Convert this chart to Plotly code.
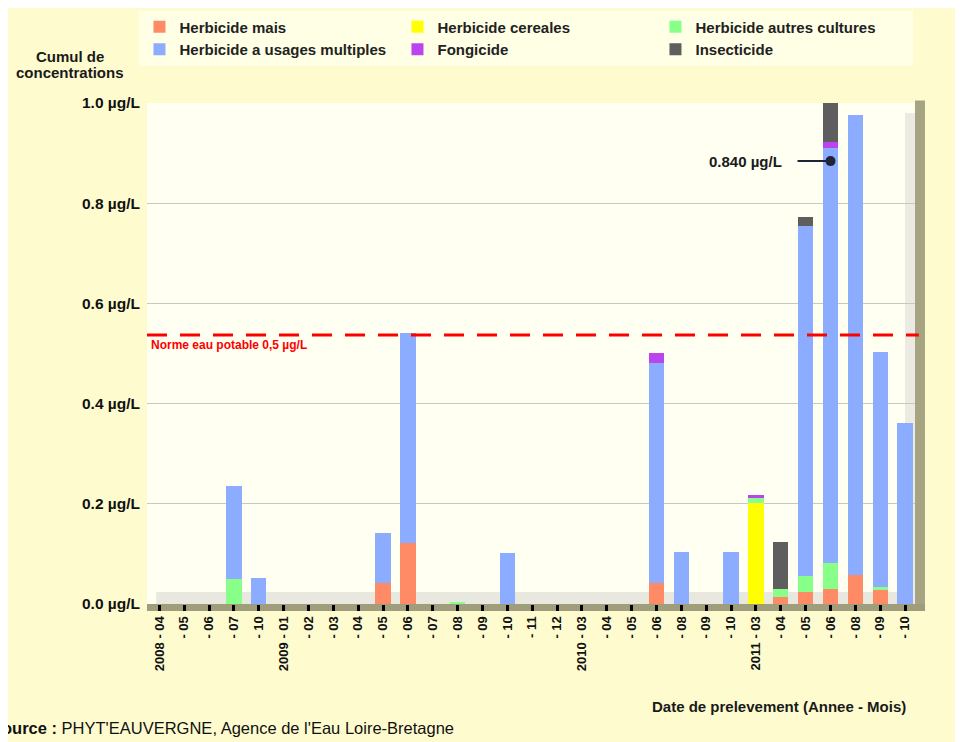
import plotly.graph_objects as go

# ---------------- data ----------------
dates = ["2008-04", "2008-05", "2008-06", "2008-07", "2008-10",
         "2009-01", "2009-02", "2009-03", "2009-04", "2009-05", "2009-06",
         "2009-07", "2009-08", "2009-09", "2009-10", "2009-11", "2009-12",
         "2010-03", "2010-04", "2010-05", "2010-06", "2010-08", "2010-09", "2010-10",
         "2011-03", "2011-04", "2011-05", "2011-06", "2011-08", "2011-09", "2011-10"]
tick_labels = ["2008 - 04", "- 05", "- 06", "- 07", "- 10",
               "2009 - 01", "- 02", "- 03", "- 04", "- 05", "- 06",
               "- 07", "- 08", "- 09", "- 10", "- 11", "- 12",
               "2010 - 03", "- 04", "- 05", "- 06", "- 08", "- 09", "- 10",
               "2011 - 03", "- 04", "- 05", "- 06", "- 08", "- 09", "- 10"]

herbicide_mais = [None, None, None, None, None,
                  None, None, None, None, 0.042, 0.122,
                  None, None, None, None, None, None,
                  None, None, None, 0.042, None, None, None,
                  None, 0.013, 0.023, 0.029, 0.057, 0.028, None]
herbicide_cereales = [None, None, None, None, None,
                      None, None, None, None, None, None,
                      None, None, None, None, None, None,
                      None, None, None, None, None, None, None,
                      0.201, None, None, None, None, None, None]
herbicide_autres = [None, None, None, 0.050, None,
                    None, None, None, None, None, None,
                    None, 0.004, None, None, None, None,
                    None, None, None, None, None, None, None,
                    0.010, 0.016, 0.033, 0.052, None, 0.005, None]
herbicide_multiples = [None, None, None, 0.185, 0.052,
                       None, None, None, None, 0.100, 0.419,
                       None, None, None, 0.102, None, None,
                       None, None, None, 0.439, 0.104, None, 0.104,
                       None, None, 0.699, 0.829, 0.919, 0.470, 0.361]
fongicide = [None, None, None, None, None,
             None, None, None, None, None, None,
             None, None, None, None, None, None,
             None, None, None, 0.020, None, None, None,
             0.007, None, None, 0.013, None, None, None]
insecticide = [None, None, None, None, None,
               None, None, None, None, None, None,
               None, None, None, None, None, None,
               None, None, None, None, None, None, None,
               None, 0.094, 0.018, 0.077, None, None, None]

series_names = ["Herbicide mais", "Herbicide cereales", "Herbicide autres cultures",
                "Herbicide a usages multiples", "Fongicide", "Insecticide"]
series_values = [herbicide_mais, herbicide_cereales, herbicide_autres,
                 herbicide_multiples, fongicide, insecticide]
series_colors = ["#FF8B66", "#FFFF00", "#88FF88", "#8CACFF", "#BB44EE", "#5E5E5E"]

y_tickvals = [0.0, 0.2, 0.4, 0.6, 0.8, 1.0]
y_ticktext = ["0.0 µg/L", "0.2 µg/L", "0.4 µg/L", "0.6 µg/L", "0.8 µg/L", "1.0 µg/L"]

norme_value = 0.537
norme_label = "Norme eau potable 0,5 µg/L"
marker_date = "2011-06"
marker_value = 0.884
marker_label = "0.840 µg/L"

# ---------------- figure ----------------
FONT = "Liberation Sans, Arial, sans-serif"
BG = "#FEFCCF"

fig = go.Figure()
for name, vals, col in zip(series_names, series_values, series_colors):
    fig.add_trace(go.Bar(x=dates, y=vals, name=name,
                         marker=dict(color=col, line=dict(width=0))))

fig.add_trace(go.Scatter(x=[marker_date], y=[marker_value], mode="markers",
                         marker=dict(color="#1F2438", size=10),
                         showlegend=False, hoverinfo="skip"))

shapes = [
    # floor band
    dict(type="rect", xref="paper", yref="y", x0=0.012, x1=0.987,
         y0=0, y1=0.024, fillcolor="#E9E8DF", line_width=0, layer="below"),
    # inner right wall
    dict(type="rect", xref="paper", yref="paper", x0=0.987, x1=1.0,
         y0=0, y1=0.98, fillcolor="#ECEBE3", line_width=0, layer="below"),
    # right shadow
    dict(type="rect", xref="paper", yref="paper", x0=1.0, x1=1.013,
         y0=-0.014, y1=1.005, fillcolor="#A7A482", line_width=0, layer="below"),
    # bottom shadow
    dict(type="rect", xref="paper", yref="paper", x0=0.0, x1=1.013,
         y0=-0.014, y1=0.0, fillcolor="#A09D7C", line_width=0, layer="below"),
    # norm line
    dict(type="line", xref="paper", yref="y", x0=0, x1=1.005,
         y0=norme_value, y1=norme_value,
         line=dict(color="#FF0000", width=3, dash="20px,13px")),
]

annotations = [
    dict(xref="paper", yref="paper", x=-0.1003, y=1.0938, xanchor="center", yanchor="middle",
         text="<b>Cumul de</b>", showarrow=False,
         font=dict(family=FONT, size=15, color="#1a1a1a")),
    dict(xref="paper", yref="paper", x=-0.1003, y=1.0599, xanchor="center", yanchor="middle",
         text="<b>concentrations</b>", showarrow=False,
         font=dict(family=FONT, size=15, color="#1a1a1a")),
    dict(xref="paper", yref="paper", x=0.991, y=-0.2036, xanchor="right", yanchor="middle",
         text="<b>Date de prelevement (Annee - Mois)</b>", showarrow=False,
         font=dict(family=FONT, size=15, color="#1a1a1a")),
    dict(xref="paper", yref="paper", x=-0.2057, y=-0.2475, xanchor="left", yanchor="middle",
         text="<b>Source :</b> PHYT'EAUVERGNE, Agence de l'Eau Loire-Bretagne", showarrow=False,
         font=dict(family=FONT, size=16.5, color="#111111")),
    dict(xref="paper", yref="y", x=0.003, y=norme_value, xanchor="left", yanchor="top",
         yshift=-1, text="<b>" + norme_label + "</b>", showarrow=False,
         font=dict(family=FONT, size=12, color="#FF0000")),
    dict(x=marker_date, y=marker_value, xref="x", yref="y",
         text="<b>" + marker_label + "</b>", showarrow=True, arrowhead=0,
         arrowwidth=2, arrowcolor="#1F2438", ax=-85, ay=0, borderpad=15,
         xanchor="center", yanchor="middle",
         font=dict(family=FONT, size=15, color="#1a1a1a")),
]

fig.update_layout(
    width=963, height=742,
    margin=dict(l=139, r=56, t=95, b=146, autoexpand=False),
    paper_bgcolor=BG, plot_bgcolor="#FFFFF2",
    barmode="stack", bargap=0.385,
    font=dict(family=FONT, size=12, color="#111111"),
    showlegend=True,
    legend=dict(orientation="h", x=-0.0098, y=1.1846, xanchor="left", yanchor="top",
                bgcolor="#FFFFE6", borderwidth=0,
                entrywidth=213, entrywidthmode="pixels",
                font=dict(family=FONT, size=15, color="#222222", weight="bold"),
                traceorder="normal"),
    shapes=shapes, annotations=annotations,
    xaxis=dict(type="category", categoryorder="array", categoryarray=dates,
               tickvals=dates, ticktext=tick_labels, tickangle=-90,
               range=[-0.5, 30.4], showgrid=False, zeroline=False, showline=False,
               ticks="outside", ticklen=6, tickwidth=3, tickcolor="#000000",
               tickfont=dict(family=FONT, size=13, color="#111111", weight="bold"),
               fixedrange=True),
    yaxis=dict(range=[0, 1.0], tickvals=y_tickvals, ticktext=y_ticktext,
               showgrid=True, gridcolor="#C9C8BE", gridwidth=1, zeroline=False,
               showline=False, ticks="", ticklabelstandoff=6,
               tickfont=dict(family=FONT, size=15.5, color="#111111", weight="bold"),
               fixedrange=True),
)

fig.write_html("out.html")
